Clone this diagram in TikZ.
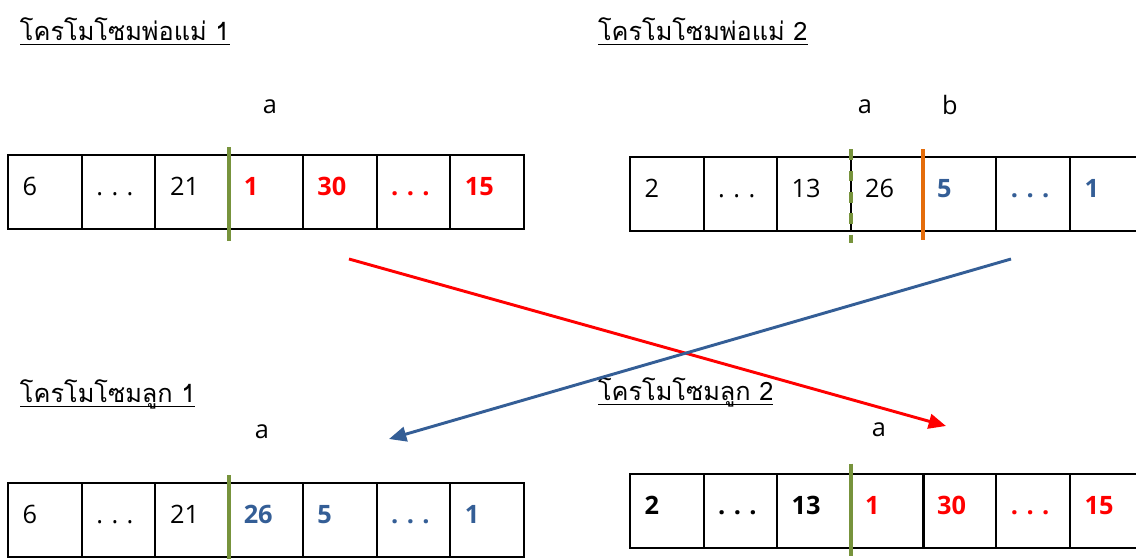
\documentclass[tikz,border=0pt]{standalone}
\usepackage{fontspec}
\setmainfont{Open Sans}
\newfontfamily\thaifont[Script=Thai]{Loma}
\usetikzlibrary{arrows.meta}

\definecolor{cutgreen}{RGB}{119,147,60}
\definecolor{cutorange}{RGB}{228,108,10}
\definecolor{geneblue}{RGB}{52,94,150}
\definecolor{genered}{RGB}{255,0,0}

\newcommand{\gap}{.~.~.}

\tikzset{
  cell/.style={draw, line width=1.5pt, minimum height=55pt, text width=33.3pt,
    text height=13.5pt, text depth=9pt,
    inner xsep=11pt, inner ysep=0pt, outer sep=0pt, align=left, anchor=west,
    font=\fontsize{19}{22}\selectfont},
  redgene/.style={text=genered, font=\fontsize{19}{22}\selectfont\bfseries},
  bluegene/.style={text=geneblue, font=\fontsize{19}{22}\selectfont\bfseries},
  boldgene/.style={font=\fontsize{19}{22}\selectfont\bfseries},
  title/.style={inner sep=0pt, outer sep=0pt, anchor=base west,
    font=\thaifont\fontsize{19}{22}\selectfont},
  titleline/.style={line width=1.1pt},
  cutlabel/.style={inner sep=0pt, font=\fontsize{19}{22}\selectfont},
  cutsolid/.style={cutgreen, line width=3pt},
  cutdashed/.style={cutgreen, line width=3pt, dash pattern=on 8pt off 8pt},
  cutsecond/.style={cutorange, line width=3pt},
  redarrow/.style={genered, line width=2.2pt, -{Triangle[length=13pt,width=11pt]}},
  bluearrow/.style={geneblue, line width=2.2pt, -{Triangle[length=13pt,width=11pt]}},
}

\begin{document}
\begin{tikzpicture}[x=0.75pt, y=-0.75pt]
  \clip (0,0) rectangle (1136,558);
  \useasboundingbox (0,0) rectangle (1136,558);

  % titles
  \node[title] (tp1) at (20,40) {โครโมโซมพ่อแม่ 1};
  \node[title] (tp2) at (598,40) {โครโมโซมพ่อแม่ 2};
  \node[title] (tc1) at (20,402) {โครโมโซมลูก 1};
  \node[title] (tc2) at (598,400) {โครโมโซมลูก 2};
  \foreach \t in {tp1,tp2,tc1,tc2}
    \draw[titleline] ([yshift=-3.5pt]\t.base west) -- ([yshift=-3.5pt]\t.base east);

  % parent 1
  \node[cell] (p1a) at (8,192) {6};
  \node[cell] (p1b) at (81.7,192) {\gap};
  \node[cell] (p1c) at (155.4,192) {21};
  \node[cell, redgene] (p1d) at (229.1,192) {1};
  \node[cell, redgene] (p1e) at (302.8,192) {30};
  \node[cell, redgene] (p1f) at (376.5,192) {\gap};
  \node[cell, redgene] (p1g) at (450.2,192) {15};

  % parent 2
  \node[cell] (p2a) at (630,194) {2};
  \node[cell] (p2b) at (703.5,194) {\gap};
  \node[cell] (p2c) at (777,194) {13};
  \node[cell] (p2d) at (850.5,194) {26};
  \node[cell, bluegene] (p2e) at (922.5,194) {5};
  \node[cell, bluegene] (p2f) at (996.2,194) {\gap};
  \node[cell, bluegene] (p2g) at (1069.9,194) {1};

  % child 1
  \node[cell] (c1a) at (8,520) {6};
  \node[cell] (c1b) at (81.7,520) {\gap};
  \node[cell] (c1c) at (155.4,520) {21};
  \node[cell, bluegene] (c1d) at (229.1,520) {26};
  \node[cell, bluegene] (c1e) at (302.8,520) {5};
  \node[cell, bluegene] (c1f) at (376.5,520) {\gap};
  \node[cell, bluegene] (c1g) at (450.2,520) {1};

  % child 2
  \node[cell, boldgene] (c2a) at (630,511) {2};
  \node[cell, boldgene] (c2b) at (703.5,511) {\gap};
  \node[cell, boldgene] (c2c) at (777,511) {13};
  \node[cell, redgene] (c2d) at (850.5,511) {1};
  \node[cell, redgene] (c2e) at (922.5,511) {30};
  \node[cell, redgene] (c2f) at (996.2,511) {\gap};
  \node[cell, redgene] (c2g) at (1069.9,511) {15};

  % crossover points
  \node[cutlabel] (la1) at (270,107) {a};
  \node[cutlabel] (la2) at (865,107) {a};
  \node[cutlabel] (lb2) at (950,105) {b};
  \node[cutlabel] (la3) at (262,432) {a};
  \node[cutlabel] (la4) at (879,430) {a};

  \draw[cutsolid] ([yshift=6pt]p1d.north west) -- ([yshift=-9pt]p1d.south west);
  \draw[cutdashed] ([yshift=6pt]p2d.north west) -- ([yshift=-9pt]p2d.south west);
  \draw[cutsecond] ([yshift=6pt]p2e.north west) -- ([yshift=-7pt]p2e.south west);
  \draw[cutsolid] ([yshift=6pt]c1d.north west) -- ([yshift=-4pt]c1d.south west);
  \draw[cutsolid] ([yshift=8pt]c2d.north west) -- ([yshift=-6pt]c2d.south west);

  % gene exchange
  \coordinate (rs) at (349,259);
  \coordinate (re) at (946,426);
  \coordinate (bs) at (1011,259);
  \coordinate (be) at (389,439);
  \draw[redarrow] (rs) -- (re);
  \draw[bluearrow] (bs) -- (be);
\end{tikzpicture}
\end{document}
